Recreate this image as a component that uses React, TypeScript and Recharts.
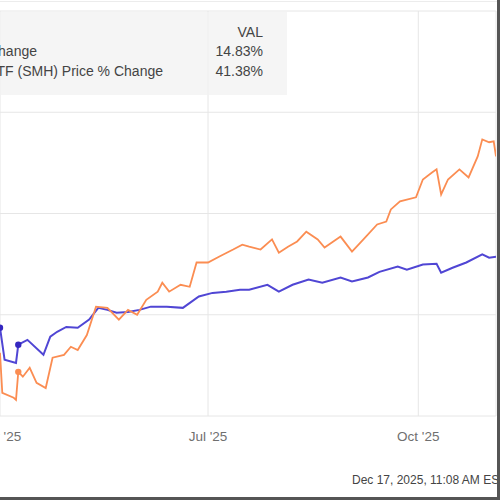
import React from "react";
import { LineChart, Line, XAxis, YAxis, CartesianGrid } from "recharts";

// x = calendar days since Apr 1 2025, y = price % change
const blueDays = [0, 2, 7, 8, 12, 19, 22, 25, 29, 34, 39, 43, 47, 51, 56, 61, 66, 73, 80, 87, 93, 99, 105, 109, 117, 122, 128, 135, 141, 149, 154, 161, 166, 174, 178, 185, 191, 193, 198, 204, 211, 214, 217];
const blueValues = [-3.2, -11.1, -11.9, -7.4, -6.2, -9.9, -5.4, -4.2, -3.0, -3.2, -1.2, 1.7, 1.2, 0.5, 0.7, 1.2, 2.0, 2.0, 1.7, 4.5, 5.4, 5.7, 6.2, 6.2, 7.4, 5.7, 7.4, 8.7, 7.9, 9.2, 8.2, 9.2, 10.6, 11.9, 11.1, 12.4, 12.6, 10.4, 11.6, 12.9, 14.9, 14.1, 14.3];
const orangeDays = [0, 1, 6, 7, 8, 10, 13, 16, 20, 23, 28, 31, 34, 38, 42, 47, 52, 56, 60, 64, 69, 71, 74, 79, 83, 86, 91, 96, 102, 106, 109, 114, 119, 122, 126, 130, 134, 139, 142, 149, 154, 159, 165, 169, 171, 175, 182, 185, 189, 191, 193, 196, 201, 205, 209, 211, 214, 216, 217];
const orangeValues = [-9.4, -19.3, -20.5, -21.0, -14.1, -15.3, -13.1, -16.8, -18.1, -10.6, -9.9, -7.9, -8.7, -5.0, 2.0, 1.7, -1.2, 1.2, 0, 3.7, 5.7, 7.9, 5.7, 7.4, 6.9, 12.9, 12.9, 14.4, 16.1, 17.3, 16.8, 16.1, 18.6, 15.3, 16.8, 18.1, 20.5, 18.6, 16.6, 19.3, 15.6, 18.6, 22.3, 23.0, 26.0, 28.0, 29.0, 33.4, 35.1, 35.9, 29.7, 33.4, 35.9, 33.9, 39.1, 43.3, 42.6, 42.8, 39.1];
const blueMarks = [0, 8];
const orangeMarks = [8];

const xTicks = [0, 91, 183];
const xTickLabels = ["Apr '25", "Jul '25", "Oct '25"];
const yTicks = [-25, 0, 25, 50, 75];

const seriesNames = ["S&P 500 Price % Change", "VanEck Semiconductor ETF (SMH) Price % Change"];
const seriesVals = ["14.83%", "41.38%"];

const BLUE = "#5046d4";
const ORANGE = "#fb8d52";

const blueData = blueDays.map((d, i) => ({ day: d, v: blueValues[i] }));
const orangeData = orangeDays.map((d, i) => ({ day: d, v: orangeValues[i] }));

const markDot = (marks: number[], color: string) => (p: any) =>
  marks.includes(p.payload.day)
    ? <circle key={`m${p.index}`} cx={p.cx} cy={p.cy} r={3.2} fill={color} />
    : <g key={`n${p.index}`} />;

export default function App() {
  const font = "'Liberation Sans', Arial, sans-serif";
  return (
    <div style={{ position: "absolute", left: 0, top: 0, width: 500, height: 500, overflow: "hidden", background: "#fff", fontFamily: font }}>
      <div style={{ position: "absolute", left: 0, top: 1, width: 497, height: 1, background: "#ececec" }} />
      <LineChart width={500} height={500} margin={{ top: 11, right: 4, bottom: 54, left: 0 }}>
        <CartesianGrid stroke="#e6e6e6" strokeWidth={1} />
        <XAxis
          type="number"
          dataKey="day"
          domain={[0, 217]}
          ticks={xTicks}
          interval={0}
          tickFormatter={(v: number) => xTickLabels[xTicks.indexOf(v)]}
          axisLine={false}
          tickLine={false}
          tickMargin={9}
          height={30}
          tick={{ fontSize: 13.5, fill: "#6f6f6f", fontFamily: font }}
          allowDataOverflow
        />
        <YAxis hide domain={[-25, 75]} ticks={yTicks} />
        <Line data={blueData} dataKey="v" type="linear" stroke={BLUE} strokeWidth={2} dot={markDot(blueMarks, "#3427c0")} activeDot={false} isAnimationActive={false} />
        <Line data={orangeData} dataKey="v" type="linear" stroke={ORANGE} strokeWidth={1.8} dot={markDot(orangeMarks, ORANGE)} activeDot={false} isAnimationActive={false} />
      </LineChart>
      <div style={{ position: "absolute", left: 0, top: 12, width: 287, height: 83, background: "rgba(242,242,242,0.75)" }} />
      <div style={{ position: "absolute", right: 237, top: 24, fontSize: 14, color: "#444", whiteSpace: "nowrap", textAlign: "right" }}>VAL</div>
      {seriesNames.map((n, i) => (
        <React.Fragment key={n}>
          <div style={{ position: "absolute", right: i === 0 ? 463 : 337, top: 43 + i * 20, fontSize: 14, color: "#444", whiteSpace: "nowrap" }}>{n}</div>
          <div style={{ position: "absolute", right: 237, top: 43 + i * 20, fontSize: 14, color: "#444", whiteSpace: "nowrap" }}>{seriesVals[i]}</div>
        </React.Fragment>
      ))}
      <div style={{ position: "absolute", left: 352, top: 473, fontSize: 12, color: "#444", whiteSpace: "nowrap" }}>Dec 17, 2025, 11:08 AM EST</div>
      <div style={{ position: "absolute", left: 497, top: 0, width: 3, height: 500, background: "#555" }} />
      <div style={{ position: "absolute", left: 0, top: 497, width: 500, height: 3, background: "#555" }} />
    </div>
  );
}
